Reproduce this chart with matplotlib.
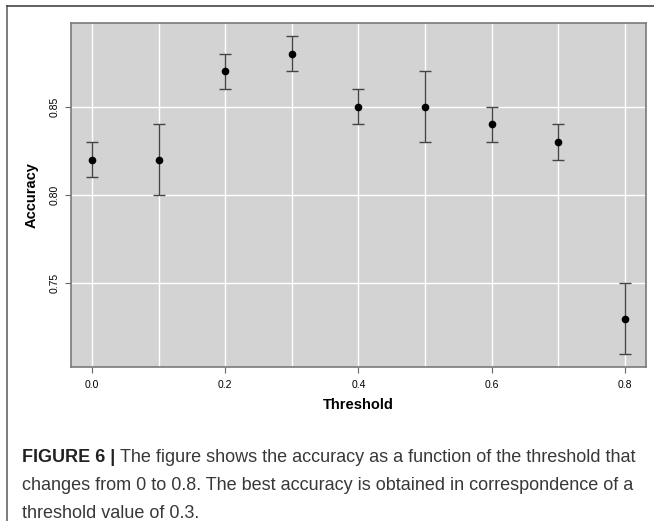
import matplotlib
matplotlib.use("Agg")
import matplotlib.pyplot as plt
from matplotlib.lines import Line2D
import numpy as np

# data
threshold = [0.0, 0.1, 0.2, 0.3, 0.4, 0.5, 0.6, 0.7, 0.8]
accuracy = [0.82, 0.82, 0.87, 0.88, 0.85, 0.85, 0.84, 0.83, 0.73]
acc_low = [0.81, 0.80, 0.86, 0.87, 0.84, 0.83, 0.83, 0.82, 0.71]
acc_high = [0.83, 0.84, 0.88, 0.89, 0.86, 0.87, 0.85, 0.84, 0.75]

x_ticks = [0.0, 0.2, 0.4, 0.6, 0.8]
x_grid = [0.0, 0.1, 0.2, 0.3, 0.4, 0.5, 0.6, 0.7, 0.8]
y_ticks = [0.75, 0.80, 0.85]

caption_bold = "FIGURE 6 | "
caption_lines = [
    "The figure shows the accuracy as a function of the threshold that",
    "changes from 0 to 0.8. The best accuracy is obtained in correspondence of a",
    "threshold value of 0.3.",
]

plt.rcParams['font.family'] = ['Liberation Sans', 'DejaVu Sans']

fig = plt.figure(figsize=(6.54, 5.21), dpi=100)
ax = fig.add_axes([0.108, 0.296, 0.880, 0.659])

ax.set_facecolor('#d3d3d3')
y = np.array(accuracy)
yerr = [y - np.array(acc_low), np.array(acc_high) - y]
ax.errorbar(threshold, accuracy, yerr=yerr, fmt='o', color='black', ms=4.5,
            ecolor='#444444', elinewidth=1.0, capsize=4.5, capthick=1.0, zorder=3)

# R-style 4% axis expansion
xr = max(threshold) - min(threshold)
ax.set_xlim(min(threshold) - 0.04 * xr, max(threshold) + 0.04 * xr)
yr = max(acc_high) - min(acc_low)
ax.set_ylim(min(acc_low) - 0.04 * yr, max(acc_high) + 0.04 * yr)

ax.set_xticks(x_ticks)
ax.set_xticklabels([f"{v:.1f}" for v in x_ticks], fontsize=7.5)
ax.set_xticks(x_grid, minor=True)
ax.set_yticks(y_ticks)
ax.set_yticklabels([f"{v:.2f}" for v in y_ticks], fontsize=7.5, rotation=90, va='center')
ax.tick_params(axis='both', which='major', length=4.3, color='#666666')
ax.tick_params(axis='x', which='major', pad=5)
ax.tick_params(axis='y', which='major', pad=3.5)
ax.tick_params(axis='x', which='minor', length=0)
ax.grid(True, which='both', color='white', linewidth=1.0)
ax.set_axisbelow(True)
for s in ax.spines.values():
    s.set_color('#7a7a7a')
    s.set_linewidth(1.2)

ax.set_xlabel('Threshold', fontsize=10.5, fontweight='bold', labelpad=6)
ax.set_ylabel('Accuracy', fontsize=10.5, fontweight='bold', labelpad=8)

# outer frame (left and top edges)
fig.add_artist(Line2D([7 / 654, 7 / 654], [0, 1 - 6 / 521], transform=fig.transFigure,
                      color='#666666', lw=1.2))
fig.add_artist(Line2D([7 / 654, 1], [1 - 6 / 521, 1 - 6 / 521], transform=fig.transFigure,
                      color='#444444', lw=1.2))

# caption
cx = 22 / 654
line_y = [458, 486, 513]
t1 = fig.text(cx, 1 - line_y[0] / 521, caption_bold, fontsize=13.0, fontweight='bold',
              color='#222222', va='center')
fig.canvas.draw()
bb = t1.get_window_extent()
x2 = bb.x1 / fig.bbox.width
for i, line in enumerate(caption_lines):
    fig.text(x2 if i == 0 else cx, 1 - line_y[i] / 521, line, fontsize=13.0,
             color='#383838', va='center')

fig.savefig('out.png', dpi=100)
